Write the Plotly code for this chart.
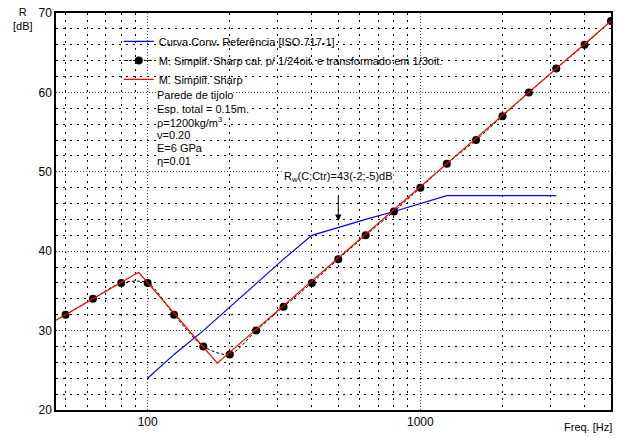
import plotly.graph_objects as go

# 1/3-octave band centre frequencies (Hz)
freq_third = [50, 63, 80, 100, 125, 160, 200, 250, 315, 400, 500, 630, 800,
              1000, 1250, 1600, 2000, 2500, 3150, 4000, 5000]
# M. Simplif. Sharp computed at 1/24 octave, transformed to 1/3 octave (dB)
r_third = [32, 34, 36, 36, 32, 28, 27, 30, 33, 36, 39, 42, 45,
           48, 51, 54, 57, 60, 63, 66, 69]

# ISO 717-1 reference curve, shifted (dB)
freq_ref = [100, 125, 160, 200, 250, 315, 400, 500, 630, 800, 1000, 1250,
            1600, 2000, 2500, 3150]
r_ref = [24, 27, 30, 33, 36, 39, 42, 43, 44, 45, 46, 47, 47, 47, 47, 47]

# M. Simplif. Sharp (piecewise model, vertices)
freq_sharp = [46.1, 92.7, 180, 5000]
r_sharp = [31.3, 37.35, 25.9, 69]

minor_x = [50, 60, 70, 80, 90, 200, 300, 400, 500, 600, 700, 800, 900,
           2000, 3000, 4000]
major_x = [100, 1000]
major_x_labels = ["100", "1000"]

info_lines = ["Parede de tijolo", "Esp. total = 0.15m.", "ρ=1200kg/m<sup>3</sup>",
              "ν=0.20", "E=6 GPa", "η=0.01"]

FONT = "Liberation Sans, Arial, sans-serif"
X_RANGE = [1.6639, 3.699]

fig = go.Figure()
fig.add_trace(go.Scatter(x=freq_ref, y=r_ref, mode="lines",
                         line=dict(color="#0000ff", width=1.2),
                         name="Curva Conv. Referência [ISO 717-1]"))
fig.add_trace(go.Scatter(x=freq_third, y=r_third, mode="lines+markers",
                         line=dict(color="black", width=1, dash="3px,2px", shape="spline", smoothing=0.8),
                         marker=dict(color="black", size=8),
                         name="M. Simplif. Sharp cal. p/ 1/24oit. e transformado em 1/3oit."))
fig.add_trace(go.Scatter(x=freq_sharp, y=r_sharp, mode="lines",
                         line=dict(color="#ff0000", width=1.2),
                         name="M. Simplif. Sharp"))

# Rw annotation
fig.add_annotation(x=2.699, y=49.4, xref="x", yref="y", text="R<sub>w</sub>(C;Ctr)=43(-2;-5)dB",
                   showarrow=False, font=dict(size=11, color="black", family=FONT),
                   bgcolor="white", borderpad=0)
fig.add_annotation(x=2.699, y=43.8, ax=2.699, ay=47.1, xref="x", yref="y", axref="x", ayref="y",
                   text="", showarrow=True, arrowhead=2, arrowsize=1.3, arrowwidth=1, arrowcolor="black")

# info text lines
for i, t in enumerate(info_lines):
    fig.add_annotation(x=(156 - 56) / 557, y=1 - (93 + i * 13.3 - 10) / 400, xref="paper", yref="paper",
                       xanchor="left", yanchor="middle", text=t, showarrow=False,
                       font=dict(size=11, color="black", family=FONT), bgcolor="white", borderpad=0)

# axis titles
fig.add_annotation(x=(23 - 56) / 557, y=1 + (10 - 1) / 400, xref="paper", yref="paper",
                   text="R<br>[dB]", showarrow=False, xanchor="center", yanchor="top",
                   font=dict(size=11, color="black", family=FONT))
fig.add_annotation(x=1.005, y=-(427 - 410) / 400, xref="paper", yref="paper", text="Freq. [Hz]",
                   showarrow=False, xanchor="right", yanchor="middle",
                   font=dict(size=11, color="black", family=FONT))

fig.update_xaxes(type="log", range=X_RANGE,
                 tickvals=major_x, ticktext=major_x_labels, ticks="",
                 showgrid=True, gridcolor="#444", griddash="1px,2px", gridwidth=1,
                 minor=dict(tickvals=minor_x, showgrid=True, gridcolor="black",
                            griddash="2px,5px", gridwidth=1, ticks=""),
                 showline=True, mirror=True, linecolor="black", linewidth=1.5,
                 zeroline=False, tickfont=dict(size=12, color="black", family=FONT))
fig.update_yaxes(range=[20, 70], dtick=10, ticks="",
                 showgrid=True, gridcolor="#444", griddash="1px,2px", gridwidth=1,
                 minor=dict(dtick=2, showgrid=True, gridcolor="black",
                            griddash="2px,5px", gridwidth=1, ticks=""),
                 showline=True, mirror=True, linecolor="black", linewidth=1.5,
                 zeroline=False, tickfont=dict(size=12, color="black", family=FONT))

fig.update_layout(width=619, height=438, margin=dict(l=56, r=6, t=10, b=28),
                  paper_bgcolor="white", plot_bgcolor="white",
                  font=dict(family=FONT, size=11, color="black"),
                  showlegend=True,
                  legend=dict(x=(119 - 56) / 557, y=1 - (24 - 10) / 400, xanchor="left", yanchor="top",
                              bgcolor="rgba(0,0,0,0)", font=dict(size=11, family=FONT),
                              tracegroupgap=0, itemwidth=30))

fig.write_html("out.html")
